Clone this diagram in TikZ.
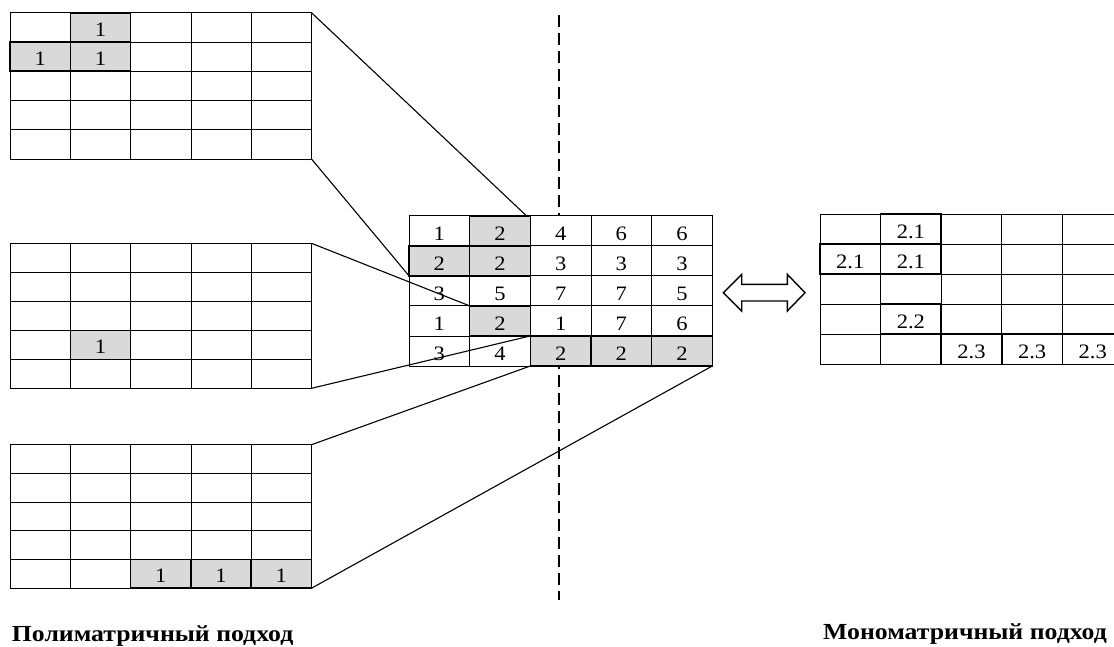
\documentclass[tikz,border=0pt]{standalone}
\usepackage{fontspec}
\setmainfont{Liberation Serif}
\definecolor{hlgray}{RGB}{217,217,217}
\newcommand{\mkgrid}[5]{%
  \foreach \r in {0,...,4}{\foreach \c in {0,...,4}{%
    \node[cell, minimum width=#4pt, minimum height=#5pt] (#1-\r-\c) at ({#2+\c*#4},{#3+\r*#5}) {};
  }}}
\newcommand{\graycell}[1]{\draw[hl, fill=hlgray] (#1.north west) rectangle (#1.south east);}
\newcommand{\boxcell}[1]{\draw[hl] (#1.north west) rectangle (#1.south east);}
\newcommand{\cellnum}[2]{\node[numtext] at ([yshift=5.5pt]#1.south) {#2};}
\begin{document}
\begin{tikzpicture}[x=1pt,y=-1pt,
  cell/.style={draw=black, line width=0.8pt, fill=white, inner sep=0pt, outer sep=0pt, anchor=north west},
  hl/.style={draw=black, line width=1.6pt},
  numtext/.style={anchor=base, inner sep=0pt, xscale=1.1, font=\fontsize{20.5}{24}\selectfont},
  link/.style={line width=1.1pt},
  divider/.style={line width=1.6pt, dash pattern=on 12pt off 6pt},
  dblarrow/.style={line width=1.4pt, line join=miter},
  title/.style={anchor=base west, inner sep=0pt, xscale=1.12, font=\fontsize{23}{28}\selectfont\bfseries}]
\useasboundingbox (0,0) rectangle (1114,646);
\clip (0,0) rectangle (1114,646);
\fill[white] (0,0) rectangle (1114,646);
% dashed divider
\coordinate (dtop) at (559,15);
\coordinate (dbot) at (559,600);
\draw[divider] (dtop) -- (dbot);
% grids
\mkgrid{A}{10}{12.7}{60.3}{29.26}
\mkgrid{B}{10}{243.3}{60.3}{29}
\mkgrid{D}{10}{444.7}{60.3}{28.7}
\mkgrid{C}{409}{215.7}{60.66}{30.06}
\mkgrid{R}{820}{214}{60.6}{30.06}
% grid A
\graycell{A-0-1}\graycell{A-1-0}\graycell{A-1-1}
\cellnum{A-0-1}{1}\cellnum{A-1-0}{1}\cellnum{A-1-1}{1}
% grid B
\graycell{B-3-1}\cellnum{B-3-1}{1}
% grid D
\graycell{D-4-2}\graycell{D-4-3}\graycell{D-4-4}
\cellnum{D-4-2}{1}\cellnum{D-4-3}{1}\cellnum{D-4-4}{1}
% grid C
\graycell{C-0-1}\graycell{C-1-0}\graycell{C-1-1}\graycell{C-3-1}
\graycell{C-4-2}\graycell{C-4-3}\graycell{C-4-4}
\cellnum{C-0-0}{1}\cellnum{C-0-1}{2}\cellnum{C-0-2}{4}\cellnum{C-0-3}{6}\cellnum{C-0-4}{6}
\cellnum{C-1-0}{2}\cellnum{C-1-1}{2}\cellnum{C-1-2}{3}\cellnum{C-1-3}{3}\cellnum{C-1-4}{3}
\cellnum{C-2-0}{3}\cellnum{C-2-1}{5}\cellnum{C-2-2}{7}\cellnum{C-2-3}{7}\cellnum{C-2-4}{5}
\cellnum{C-3-0}{1}\cellnum{C-3-1}{2}\cellnum{C-3-2}{1}\cellnum{C-3-3}{7}\cellnum{C-3-4}{6}
\cellnum{C-4-0}{3}\cellnum{C-4-1}{4}\cellnum{C-4-2}{2}\cellnum{C-4-3}{2}\cellnum{C-4-4}{2}
% grid R
\boxcell{R-0-1}\boxcell{R-1-0}\boxcell{R-1-1}\boxcell{R-3-1}
\boxcell{R-4-2}\boxcell{R-4-3}\boxcell{R-4-4}
\cellnum{R-0-1}{2.1}\cellnum{R-1-0}{2.1}\cellnum{R-1-1}{2.1}\cellnum{R-3-1}{2.2}
\cellnum{R-4-2}{2.3}\cellnum{R-4-3}{2.3}\cellnum{R-4-4}{2.3}
% connectors
\draw[link] (A-0-4.north east) -- ([xshift=-4pt]C-0-1.north east);
\draw[link] (A-4-4.south east) -- (C-1-0.south west);
\draw[link] (B-0-4.north east) -- (C-3-1.north west);
\draw[link] (B-4-4.south east) -- (C-4-2.north west);
\draw[link] (D-0-4.north east) -- (C-4-2.south west);
\draw[link] (D-4-4.south east) -- (C-4-4.south east);
% double arrow
\draw[dblarrow] (723.3,292.7) -- (741.7,274.3) -- (741.7,284.3) -- (787.3,284.3) -- (787.3,274.3) -- (805,292.7) -- (787.3,311) -- (787.3,301) -- (741.7,301) -- (741.7,311) -- cycle;
% titles
\node[title] (poly) at (11.7,641.5) {Полиматричный подход};
\node[title] (mono) at (823,639.5) {Мономатричный подход};
\end{tikzpicture}
\end{document}
